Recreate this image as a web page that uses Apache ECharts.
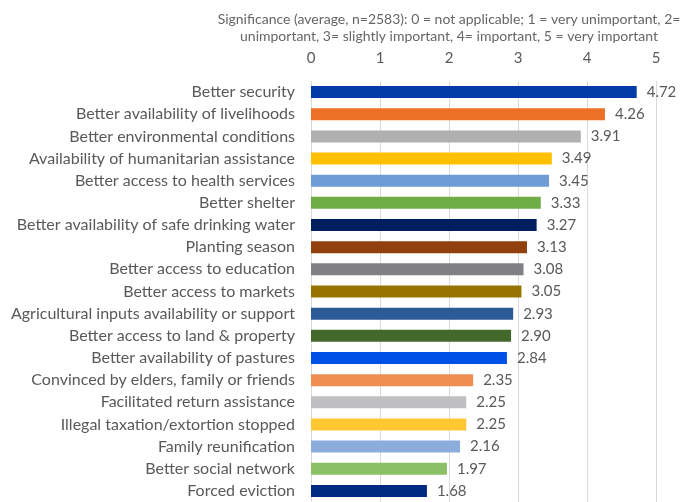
<!DOCTYPE html>
<html><head><meta charset="utf-8">
<script src="https://cdn.jsdelivr.net/npm/echarts@6/dist/echarts.min.js"></script>
<style>html,body{margin:0;padding:0;background:#fff}#c{width:691px;height:502px}</style>
</head><body><div id="c"></div>
<script>
const categories = [
 "Better security","Better availability of livelihoods","Better environmental conditions",
 "Availability of humanitarian assistance","Better access to health services","Better shelter",
 "Better availability of safe drinking water","Planting season","Better access to education",
 "Better access to markets","Agricultural inputs availability or support","Better access to land & property",
 "Better availability of pastures","Convinced by elders, family or friends","Facilitated return assistance",
 "Illegal taxation/extortion stopped","Family reunification","Better social network","Forced eviction"];
const values = [4.72,4.26,3.91,3.49,3.45,3.33,3.27,3.13,3.08,3.05,2.93,2.90,2.84,2.35,2.25,2.25,2.16,1.97,1.68];
const colors = ["#003BA8","#ED7125","#AFB0B2","#FFC000","#6F9BD6","#70AD47","#001F5F","#93400F","#808084",
 "#977400","#2C5A96","#43682B","#0050E8","#F08E52","#BFBFC1","#FFC832","#8CACDC","#8BC066","#00297F"];
const tickLabels = ["0","1","2","3","4","5"];
const FONT = "Lato, sans-serif";
const chart = echarts.init(document.getElementById('c'), null, {renderer:'canvas'});
chart.setOption({
  animation:false,
  title:{
    text:"Significance (average, n=2583): 0 = not applicable; 1 = very unimportant, 2=\nunimportant, 3= slightly important, 4= important, 5 = very important",
    left:444, top:6, textAlign:'center',
    textStyle:{fontFamily:FONT,fontSize:14,fontWeight:'normal',color:'#666666',lineHeight:17}
  },
  grid:{left:311,right:35,top:81,bottom:0,containLabel:false},
  xAxis:{type:'value',position:'top',min:0,max:5,interval:1,
    axisLine:{show:false},axisTick:{show:false},
    axisLabel:{fontFamily:FONT,fontSize:15,color:'#595959',margin:15,formatter:v=>tickLabels[v]},
    splitLine:{show:true,lineStyle:{color:'#D9D9D9',width:1}}},
  yAxis:{type:'category',inverse:true,data:categories,
    axisLine:{show:false},axisTick:{show:false},
    axisLabel:{fontFamily:FONT,fontSize:16,color:'#595959',margin:16}},
  series:[{type:'bar',barWidth:12,
    data:values.map((v,i)=>({value:v,itemStyle:{color:colors[i]}})),
    label:{show:true,position:'right',distance:10,fontFamily:FONT,fontSize:15,color:'#595959',
      formatter:p=>p.value.toFixed(2)}}]
});
</script></body></html>
